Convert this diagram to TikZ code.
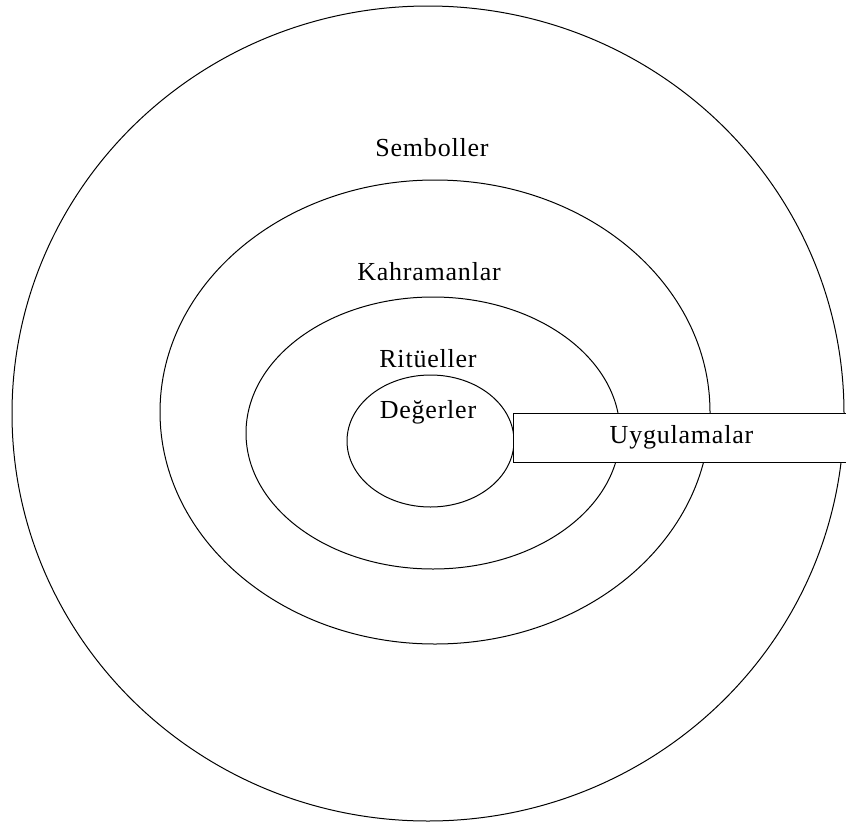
\documentclass[tikz,border=0pt]{standalone}
\usepackage{fontspec}
\setmainfont{Liberation Serif}
\newfontfamily\ringfont[LetterSpace=3]{Liberation Serif}
\usetikzlibrary{positioning, shapes.geometric}

\begin{document}
\begin{tikzpicture}[
    x=1pt, y=-1pt,
    line width=1pt,
    ring/.style={draw, ellipse, inner sep=0pt, outer sep=0pt},
    layer/.style={font=\ringfont\fontsize{26}{30}\selectfont, inner sep=0pt}
]
\useasboundingbox (0,0) rectangle (846,822);

% Rings, outer to inner
\node[ring, minimum width=832pt, minimum height=815pt] (Rsem) at (428,413.5) {};
\node[ring, minimum width=550pt, minimum height=464pt] (Rkah) at (435,412) {};
\node[ring, minimum width=374pt, minimum height=272pt] (Rrit) at (433,433) {};
\node[ring, minimum width=167pt, minimum height=132pt] (Rdeg) at (430.5,441) {};

% Ring labels
\node[layer] (Sem) at (432,148) {Semboller};
\node[layer] (Kah) at (429,272) {Kahramanlar};
\node[layer] (Rit) at (428,359) {Ritüeller};
\node[layer] (Deg) at (428,412) {Değerler};

% Side box across the rings
\node[draw, fill=white, layer, minimum width=337pt, minimum height=49pt]
    (Uyg) at (681.5,437.5) {Uygulamalar};
\end{tikzpicture}
\end{document}
